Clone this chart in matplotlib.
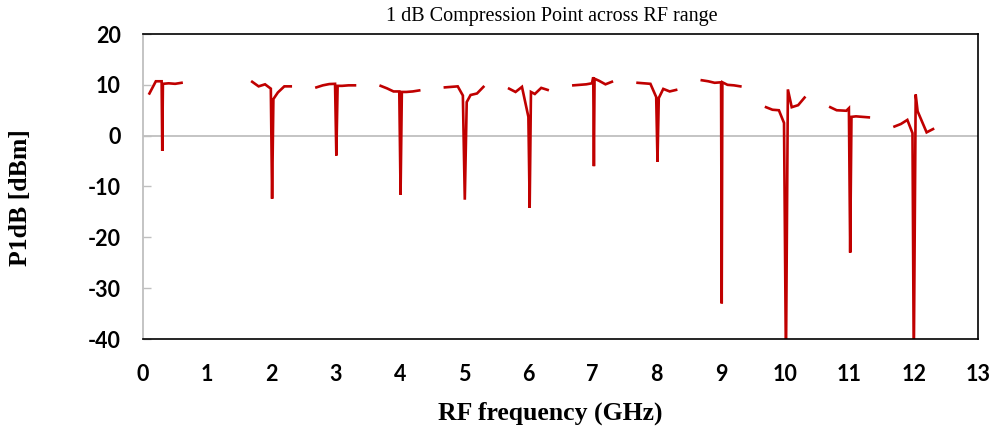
import numpy as np
import matplotlib
matplotlib.use("Agg")
import matplotlib.pyplot as plt

# ---- data (GHz, dBm); np.nan separates the measurement bands ----
freq_ghz = [
    0.1, 0.2, 0.29, 0.3, 0.31, 0.4, 0.5, 0.6, np.nan,
    1.7, 1.8, 1.9, 1.99, 2.01, 2.03, 2.1, 2.2, 2.3, np.nan,
    2.7, 2.8, 2.9, 2.99, 3.01, 3.03, 3.1, 3.2, 3.3, np.nan,
    3.7, 3.8, 3.9, 3.99, 4.01, 4.03, 4.1, 4.2, 4.3, np.nan,
    4.7, 4.8, 4.9, 4.98, 5.01, 5.04, 5.1, 5.2, 5.3, np.nan,
    5.7, 5.8, 5.9, 6.0, 6.02, 6.04, 6.1, 6.2, 6.3, np.nan,
    6.7, 6.8, 6.9, 6.99, 7.01, 7.02, 7.03, 7.1, 7.2, 7.3, np.nan,
    7.7, 7.8, 7.9, 7.99, 8.01, 8.03, 8.1, 8.2, 8.3, np.nan,
    8.7, 8.8, 8.9, 9.0, 9.01, 9.02, 9.1, 9.2, 9.3, np.nan,
    9.7, 9.8, 9.9, 9.98, 10.01, 10.04, 10.1, 10.2, 10.3, np.nan,
    10.7, 10.8, 10.95, 10.99, 11.01, 11.03, 11.1, 11.2, 11.3, np.nan,
    11.7, 11.8, 11.9, 11.98, 12.0, 12.03, 12.06, 12.2, 12.3,
]
p1db_dbm = [
    8.3, 10.7, 10.7, -3.0, 10.2, 10.3, 10.2, 10.4, np.nan,
    10.6, 9.7, 10.1, 9.25, -12.4, 7.2, 8.5, 9.7, 9.7, np.nan,
    9.5, 9.9, 10.15, 10.2, -3.9, 9.8, 9.8, 9.9, 9.9, np.nan,
    9.8, 9.3, 8.7, 8.7, -11.6, 8.6, 8.6, 8.7, 8.9, np.nan,
    9.5, 9.6, 9.7, 7.9, -12.6, 6.6, 8.0, 8.3, 9.6, np.nan,
    9.25, 8.6, 9.6, 3.7, -14.2, 8.6, 8.2, 9.4, 9.0, np.nan,
    9.9, 10.0, 10.1, 10.3, 11.5, -6.0, 11.2, 10.8, 10.1, 10.6, np.nan,
    10.4, 10.3, 10.2, 7.6, -5.1, 7.4, 9.2, 8.7, 9.0, np.nan,
    10.9, 10.7, 10.4, 10.5, -33.0, 10.5, 10.0, 9.9, 9.7, np.nan,
    5.6, 5.1, 5.0, 2.5, -45.0, 9.1, 5.6, 6.0, 7.5, np.nan,
    5.6, 5.0, 4.9, 5.4, -23.0, 3.7, 3.8, 3.7, 3.6, np.nan,
    1.8, 2.3, 3.1, 0.5, -45.0, 8.1, 4.8, 0.65, 1.3,
]
x_ticks = list(range(0, 14))
y_ticks = [-40, -30, -20, -10, 0, 10, 20]

W, H = 996, 436
fig = plt.figure(figsize=(W / 100, H / 100), dpi=100)
ax = fig.add_axes([143 / W, 1 - 339 / H, (978 - 143) / W, (339 - 34) / H])

ax.plot(freq_ghz, p1db_dbm, color="#C00000", lw=1.9, solid_joinstyle="miter")
ax.axhline(0, color="#BFBFBF", lw=1.3, zorder=0)

ax.set_xlim(0, 13)
ax.set_ylim(-40, 20)
ax.set_xticks(x_ticks)
ax.set_yticks(y_ticks)

tick_font = dict(family=["Lato", "DejaVu Sans"], weight="bold", size=15.5)
ax.set_xticklabels([str(t) for t in x_ticks], **tick_font)
ax.set_yticklabels([str(t) for t in y_ticks], **tick_font)
ax.tick_params(axis="x", length=0, pad=18)
ax.tick_params(axis="y", direction="in", length=5.5, width=1, color="#BFBFBF", pad=16)

for side in ("top", "right", "bottom"):
    ax.spines[side].set_color("#000000")
    ax.spines[side].set_linewidth(1.2)
ax.spines["left"].set_color("#BFBFBF")
ax.spines["left"].set_linewidth(1.3)

serif = ["Liberation Serif", "DejaVu Serif"]
fig.text(552 / W, 1 - 16 / H, "1 dB Compression Point across RF range",
         family=serif, size=14.5, ha="center", va="center")
fig.text(550 / W, 1 - 413 / H, "RF frequency (GHz)",
         family=serif, weight="bold", size=18.5, ha="center", va="center")
fig.text(20 / W, 1 - 198 / H, "P1dB [dBm]", rotation=90,
         family=serif, weight="bold", size=18.5, ha="center", va="center")

fig.savefig("out.png", dpi=100)
